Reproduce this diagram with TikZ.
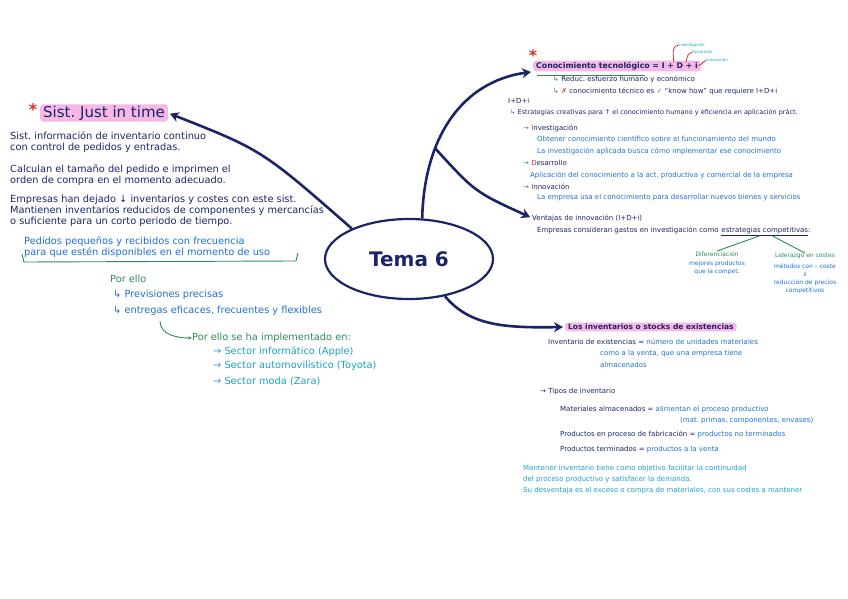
\documentclass[tikz,border=0pt]{standalone}
\usepackage{fontspec}
\setmainfont{DejaVu Sans}
\usepackage{xcolor}
\usetikzlibrary{arrows.meta,shapes.geometric,positioning}
\definecolor{navy}{HTML}{1B2466}
\definecolor{inkblue}{HTML}{1E6FD0}
\definecolor{inkteal}{HTML}{1AA0C8}
\definecolor{inkgreen}{HTML}{2E8B57}
\definecolor{inkred}{HTML}{D0302C}
\definecolor{hlpink}{HTML}{F6B8E4}
\frenchspacing

\begin{document}
\begin{tikzpicture}[
    x=1pt, y=-1pt,
    conn/.style={navy, line width=2.6pt, -{Stealth[length=9pt,width=10pt]}, shorten >=2pt},
    txtL/.style={font=\fontsize{9.8}{11}\selectfont, text=navy, inner sep=0pt, align=left},
    txtR/.style={font=\fontsize{7}{12}\selectfont, text=navy, inner sep=0pt, align=left},
    head/.style={text=navy, fill=hlpink, rounded corners=3pt, inner xsep=3pt, inner ysep=1.5pt, anchor=west},
    star/.style={text=inkred, font=\fontsize{16}{16}\selectfont\bfseries},
    tiny/.style={inner sep=0pt, text=inkteal, font=\fontsize{4}{5}\selectfont, anchor=west},
    grnline/.style={inkgreen, line width=0.9pt},
    redline/.style={inkred, line width=0.8pt},
  ]
    \useasboundingbox (0,0) rectangle (848,599);

    \node[ellipse, draw=navy, line width=2.2pt, minimum width=168pt, minimum height=80pt,
      text=navy, font=\fontsize{20}{24}\selectfont\bfseries] (tema) at (409,259) {Tema 6};

    % izquierda
    \node[star] (astL) at (33,110) {*};
    \node[head, font=\fontsize{15}{17}\selectfont] (sist) at (40,113) {Sist. Just in time};
    \node[txtL, anchor=north west] (blk1) at (10,131)
      {Sist. información de inventario continuo\\con control de pedidos y entradas.};
    \node[txtL, anchor=north west] (blk2) at (10,165)
      {Calculan el tamaño del pedido e imprimen el\\orden de compra en el momento adecuado.};
    \node[txtL, anchor=north west] (blk3) at (10,195)
      {Empresas han dejado ↓ inventarios y costes con este sist.\\Mantienen inventarios reducidos de componentes y mercancías\\o suficiente para un corto periodo de tiempo.};
    \node[txtL, text=inkblue, anchor=north west] (pedidos) at (24,237)
      {Pedidos pequeños y recibidos con frecuencia\\para que estén disponibles en el momento de uso};
    \draw[grnline] (22,254) -- (24,262) -- (296,261) -- (298,253);
    \node[txtL, text=inkgreen, anchor=west] (porello) at (110,279) {Por ello};
    \node[txtL, text=inkblue, anchor=west] (prev) at (113,295) {↳ Previsiones precisas};
    \node[txtL, text=inkblue, anchor=west] (entregas) at (113,311) {↳ entregas eficaces, frecuentes y flexibles};
    \node[txtL, text=inkgreen, anchor=west] (implem) at (192,338) {Por ello se ha implementado en:};
    \node[txtL, text=inkteal, anchor=west] (sec1) at (213,352) {→ Sector informático (Apple)};
    \node[txtL, text=inkteal, anchor=west] (sec2) at (213,366) {→ Sector automovilístico (Toyota)};
    \node[txtL, text=inkteal, anchor=west] (sec3) at (213,381) {→ Sector moda (Zara)};
    \coordinate (hook) at (160,321);
    \draw[grnline, -{Stealth[length=4pt]}] (hook) to[out=-90, in=180] (implem.west);

    % derecha arriba
    \node[star] (astR) at (533,56) {*};
    \node[head, font=\fontsize{7.8}{9}\selectfont\bfseries] (conoc) at (533,66) {Conocimiento tecnológico = I + D + i};
    \draw[grnline] (537,75) -- (645,75);
    \coordinate (letI) at ([xshift=-27pt,yshift=-2pt]conoc.north east);
    \coordinate (letD) at ([xshift=-15pt,yshift=-2pt]conoc.north east);
    \coordinate (leti) at ([xshift=-3pt,yshift=-5pt]conoc.north east);
    \node[tiny] (lblI) at ([xshift=4pt,yshift=17pt]letI) {Investigación};
    \node[tiny] (lblD) at ([xshift=6pt,yshift=10pt]letD) {Desarrollo};
    \node[tiny] (lblI2) at ([xshift=8pt,yshift=5pt]leti) {Innovación};
    \draw[redline] (letI) to[out=95, in=190] (lblI.west);
    \draw[redline] (letD) to[out=80, in=190] (lblD.west);
    \draw[redline] (leti) to[out=-10, in=200] (lblI2.west);

    \node[txtR, anchor=west] (reduc) at (553,79) {{\color{inkgreen}↳} Reduc. esfuerzo humano y económico};
    \node[txtR, anchor=west] (know) at (553,91)
      {{\color{inkgreen}↳} {\color{inkred}✗} conocimiento técnico es {\color{inkgreen}✓} “know how” que requiere I+D+i};
    \node[txtR, anchor=west] (idi) at (508,101) {I+D+i};
    \node[txtR, anchor=west, font=\fontsize{6.5}{8}\selectfont] (estrcre) at (510,113)
      {{\color{inkgreen}↳} Estrategias creativas para ↑ el conocimiento humano y eficiencia en aplicación práct.};
    \node[txtR, anchor=west] (invest) at (523,128) {{\color{inkgreen}→} {\color{inkred}I}nvestigación};
    \node[txtR, text=inkblue, anchor=north west] (investtxt) at (537,136)
      {Obtener conocimiento científico sobre el funcionamiento del mundo\\La investigación aplicada busca cómo implementar ese conocimiento};
    \node[txtR, anchor=west] (desarr) at (523,163) {{\color{inkgreen}→} {\color{inkred}D}esarrollo};
    \node[txtR, text=inkblue, anchor=west] (desarrtxt) at (530,175)
      {Aplicación del conocimiento a la act. productiva y comercial de la empresa};
    \node[txtR, anchor=west] (innov) at (523,187) {{\color{inkgreen}→} {\color{inkred}I}nnovación};
    \node[txtR, text=inkblue, anchor=west] (innovtxt) at (537,198)
      {La empresa usa el conocimiento para desarrollar nuevos bienes y servicios};

    \node[txtR, anchor=west] (vent) at (532,218) {Ventajas de innovación (I+D+i)};
    \node[txtR, anchor=west] (emp) at (537,230) {Empresas consideran gastos en investigación como};
    \node[txtR, anchor=base west] (estrat) at ([xshift=2.5pt]emp.base east) {\underline{estrategias competitivas}:};
    \node[txtR, text=inkgreen, font=\fontsize{6}{8}\selectfont, anchor=north] (dif) at (717,251) {Diferenciación};
    \node[txtR, text=inkblue, font=\fontsize{6}{8}\selectfont, align=center, anchor=north] (diftxt) at (717,261)
      {mejores productos\\que la compet.};
    \node[txtR, text=inkgreen, font=\fontsize{6}{8}\selectfont, anchor=north] (lid) at (805,253) {Liderazgo en costes};
    \node[txtR, text=inkblue, font=\fontsize{6}{8}\selectfont, align=center, anchor=north] (lidtxt) at (805,263)
      {métodos con – coste\\⇓\\reducción de precios\\competitivos};
    \draw[grnline] ([xshift=-6pt]estrat.south) -- (dif.north);
    \draw[grnline] ([xshift=6pt]estrat.south) -- (lid.north);

    % derecha abajo
    \node[head, font=\fontsize{7.5}{9}\selectfont\bfseries] (stocks) at (565,327) {Los inventarios o stocks de existencias};
    \node[txtR, anchor=west] (invex) at (548,342)
      {Inventario de existencias = {\color{inkblue}número de unidades materiales}};
    \node[txtR, text=inkblue, anchor=north west] (invex2) at (600,350)
      {como a la venta, que una empresa tiene\\almacenados};
    \node[txtR, anchor=west] (tipos) at (540,392) {→ Tipos de inventario};
    \node[txtR, anchor=west] (mat) at (560,410)
      {Materiales almacenados = {\color{inkblue}alimentan el proceso productivo}};
    \node[txtR, text=inkblue, anchor=west] (mat2) at (680,421) {(mat. primas, componentes, envases)};
    \node[txtR, anchor=west] (proc) at (560,434)
      {Productos en proceso de fabricación = {\color{inkblue}productos no terminados}};
    \node[txtR, anchor=west] (term) at (560,450)
      {Productos terminados = {\color{inkblue}productos a la venta}};
    \node[txtR, text=inkteal, font=\fontsize{7}{11}\selectfont, anchor=north west] (mant) at (523,465)
      {Mantener inventario tiene como objetivo facilitar la continuidad\\del proceso productivo y satisfacer la demanda.\\Su desventaja es el exceso o compra de materiales, con sus costes a mantener};

    % conectores
    \draw[conn] (tema.152) .. controls (262,150) .. (sist.east);
    \draw[conn] (tema.72) .. controls (424,140) and (460,82) .. coordinate[pos=0.33] (fork) (conoc.south west);
    \draw[conn] (fork) .. controls (475,192) .. (vent.west);
    \draw[conn] (tema.-46) .. controls (470,326) and (505,328) .. (stocks.west);
\end{tikzpicture}
\end{document}
